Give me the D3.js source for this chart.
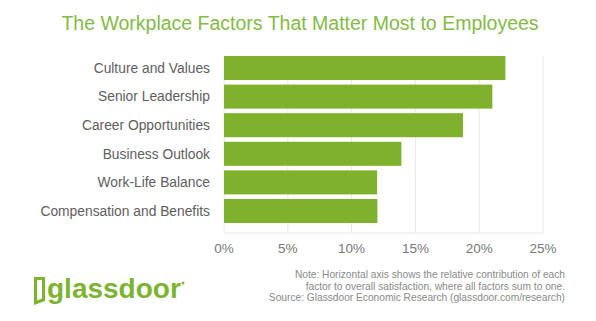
<!DOCTYPE html>
<html>
<head>
<meta charset="utf-8">
<script src="https://cdn.jsdelivr.net/npm/d3@7"></script>
<style>
  body { margin: 0; background: #fff; }
  text { font-family: "Liberation Sans", Arial, Helvetica, sans-serif; }
</style>
</head>
<body>
<div id="chart"></div>
<script>
// chart data
const factors = ["Culture and Values", "Senior Leadership", "Career Opportunities",
    "Business Outlook", "Work-Life Balance", "Compensation and Benefits"];
const shares = [0.2205, 0.2103, 0.1873, 0.139, 0.12, 0.1202];
const ticks = [0, 0.05, 0.10, 0.15, 0.20, 0.25];
const noteLines = [
    "Note: Horizontal axis shows the relative contribution of each",
    "factor to overall satisfaction, where all factors sum to one.",
    "Source: Glassdoor Economic Research (glassdoor.com/research)"
];

const W = 596, H = 321;
const green = "#7fb12c";

const svg = d3.select("#chart").append("svg")
    .attr("width", W)
    .attr("height", H)
    .attr("viewBox", "0 0 " + W + " " + H);

// title
svg.append("text")
    .attr("x", 300)
    .attr("y", 30)
    .attr("text-anchor", "middle")
    .attr("font-size", 19.5)
    .attr("fill", "#84ba46")
    .text("The Workplace Factors That Matter Most to Employees");

const x = d3.scaleLinear().domain([0, 0.25]).range([224, 543]);
const y = d3.scaleBand().domain(factors).range([56, 223]).paddingInner(0.16);

// gridlines
svg.append("g")
    .selectAll("line")
    .data(ticks)
    .join("line")
    .attr("x1", d => x(d))
    .attr("x2", d => x(d))
    .attr("y1", 56)
    .attr("y2", 233)
    .attr("stroke", "#e8e8e8")
    .attr("stroke-width", 1);

// baseline
svg.append("line")
    .attr("x1", x(0))
    .attr("x2", x(0.25))
    .attr("y1", 233)
    .attr("y2", 233)
    .attr("stroke", "#e8e8e8");

// bars
svg.append("g")
    .selectAll("rect")
    .data(factors)
    .join("rect")
    .attr("x", x(0))
    .attr("y", d => y(d))
    .attr("width", (d, i) => x(shares[i]) - x(0))
    .attr("height", y.bandwidth())
    .attr("fill", green);

// category labels
svg.append("g")
    .selectAll("text")
    .data(factors)
    .join("text")
    .attr("x", 210)
    .attr("y", d => y(d) + y.bandwidth() / 2)
    .attr("dy", "0.35em")
    .attr("text-anchor", "end")
    .attr("font-size", 13.8)
    .attr("fill", "#5e5e5e")
    .text(d => d);

// tick labels
svg.append("g")
    .selectAll("text")
    .data(ticks)
    .join("text")
    .attr("x", d => x(d))
    .attr("y", 253)
    .attr("text-anchor", "middle")
    .attr("font-size", 13.5)
    .attr("fill", "#777")
    .text(d3.format(".0%"));

// note / source
svg.append("g")
    .selectAll("text")
    .data(noteLines)
    .join("text")
    .attr("x", 565)
    .attr("y", (d, i) => 278 + i * 11.5)
    .attr("text-anchor", "end")
    .attr("font-size", 10.2)
    .attr("fill", "#8a8a8a")
    .text(d => d);

// glassdoor logo: door icon + wordmark
const logo = svg.append("g").attr("transform", "translate(34,277)");
logo.append("path")
    .attr("d", "M0,0 L11,0 L11,24 L0,28 Z M3,3 L8,3 L8,21.5 L3,23.5 Z")
    .attr("fill", "#7cb432")
    .attr("fill-rule", "evenodd");
logo.append("text")
    .attr("x", 13)
    .attr("y", 21)
    .attr("font-size", 28)
    .attr("font-weight", "bold")
    .attr("fill", "#7cb432")
    .text("glassdoor");
logo.append("circle")
    .attr("cx", 149)
    .attr("cy", 6)
    .attr("r", 1.5)
    .attr("fill", "#7cb432");
</script>
</body>
</html>
